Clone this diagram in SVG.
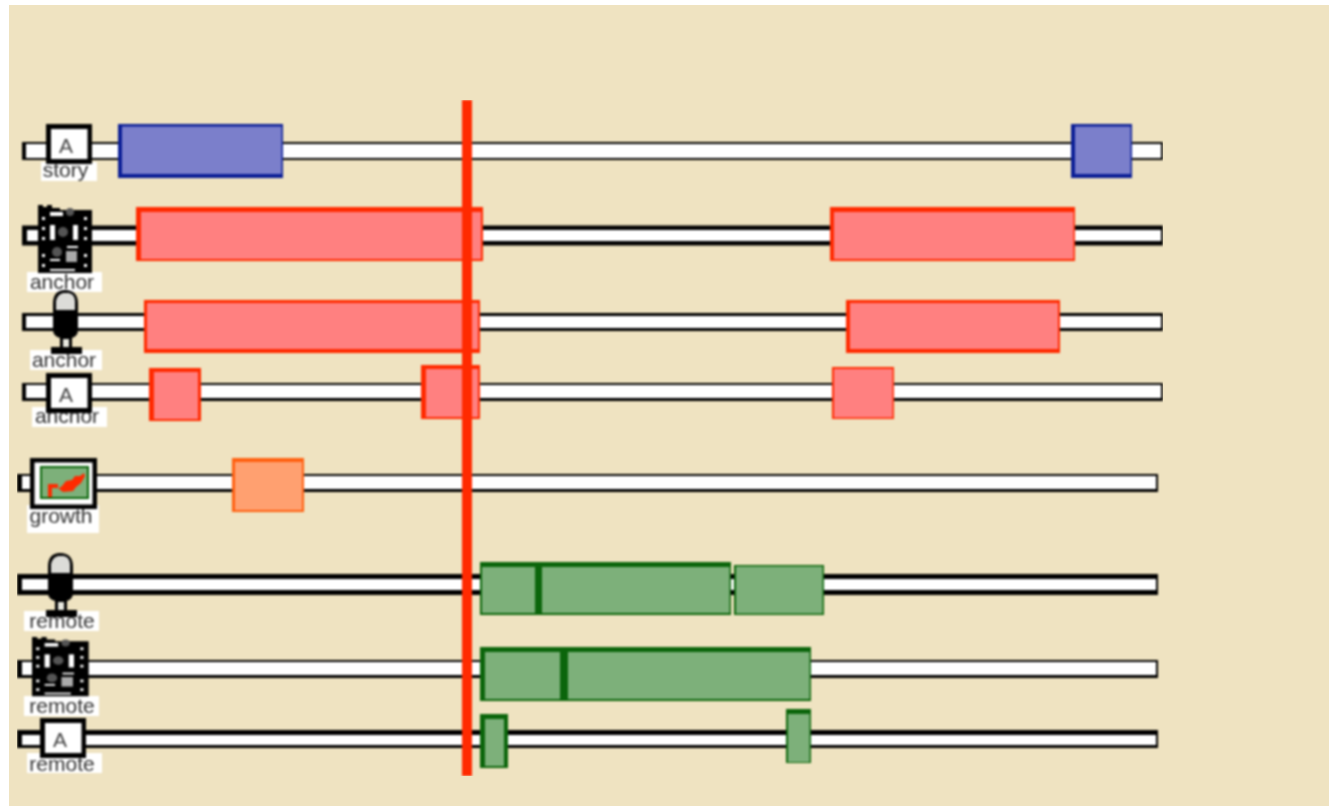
<svg xmlns="http://www.w3.org/2000/svg" width="1329" height="806" viewBox="0 0 1329 806">
<style>
.k{fill:#000}.w{fill:#fff}
.rb{fill:#ff2a00}.rf{fill:#ff8080}
.bb{fill:#0a1e96}.bf{fill:#7b7fcb}
.ob{fill:#ff6010}.of{fill:#ffa070}
.gb{fill:#0b650b}.gf{fill:#7db07a}
text{font-family:"Liberation Sans",Arial,sans-serif;fill:#333}
.l{font-size:21px;text-anchor:middle}
.a{font-size:21px;text-anchor:middle;fill:#444}
</style>
<defs>
<filter id="soft" x="0" y="0" width="1" height="1" color-interpolation-filters="sRGB"><feGaussianBlur stdDeviation="0.8"/></filter>
<g id="abox"><rect class="k" width="46" height="40"/><rect class="w" x="5" y="5" width="36.500" height="30"/><text class="a" x="20" y="29">A</text></g>
<g id="mic">
<path class="k" d="M53 304Q53 290 65 290Q78 290 78 304V330Q78 336 72 338V347H82V354H51V347H60V338Q53 336 53 330Z"/>
<path fill="#dcdcd8" d="M56 310V301Q57 295 63 293H69Q75 295 75 301V310Z"/>
<rect fill="#e8e8e0" x="63" y="339" width="6" height="8"/>
</g>
<g id="board">
<path class="k" d="M0 0H5V2H9V0H14V3H22V5H54V68H0Z"/>
<g class="w">
<rect x="12" y="7" width="13" height="4"/><rect x="12" y="20" width="5" height="15"/><rect x="35" y="20" width="5" height="15"/>
<rect x="12" y="54" width="10" height="2"/><rect x="29" y="41" width="11" height="2"/><rect x="12" y="64" width="25" height="2"/>
<rect x="46" y="12" width="3" height="3"/><rect x="46" y="22" width="3" height="3"/><rect x="46" y="32" width="3" height="3"/><rect x="46" y="49" width="3" height="3"/><rect x="46" y="59" width="3" height="3"/>
<rect x="4" y="12" width="3" height="3"/><rect x="4" y="22" width="3" height="3"/><rect x="4" y="32" width="3" height="3"/><rect x="4" y="49" width="3" height="3"/><rect x="4" y="59" width="3" height="3"/>
</g>
<rect fill="#aaa" x="28" y="46" width="11" height="11"/>
<circle fill="#555" cx="25" cy="27" r="5"/><circle fill="#555" cx="19" cy="47" r="5"/><circle fill="#555" cx="32" cy="7" r="4"/>
</g>
</defs>
<rect class="w" width="1329" height="806"/>
<rect fill="#efe3c1" x="9" y="5" width="1320" height="801"/>
<g filter="url(#soft)">

<g id="row-story">
<rect class="k" x="22" y="142" width="1141" height="18"/><rect class="w" x="26" y="144" width="1135" height="14"/>
<rect class="bb" x="118" y="124" width="165" height="54"/><rect class="bf" x="122" y="126.500" width="159.500" height="47.500"/>
<rect class="bb" x="1071" y="124" width="61" height="54"/><rect class="bf" x="1075" y="126.500" width="55.500" height="47.500"/>
<rect class="w" x="41" y="162" width="56" height="19"/><text class="l" x="65.500" y="177">story</text>
<use href="#abox" x="46" y="124"/>
</g>

<g id="row-anchor-board">
<rect class="k" x="22" y="225.500" width="1141" height="20"/><rect class="w" x="27" y="230" width="1134" height="11"/>
<rect class="rb" x="136" y="207" width="347" height="54"/><rect class="rf" x="141" y="212" width="340" height="47"/>
<rect class="rb" x="830" y="207" width="245" height="54"/><rect class="rf" x="834" y="212" width="239.500" height="47"/>
<rect class="w" x="27" y="272" width="75" height="20"/><text class="l" x="62" y="289">anchor</text>
<use href="#board" x="38" y="205"/>
</g>

<g id="row-anchor-mic">
<rect class="k" x="22" y="313" width="1141" height="18"/><rect class="w" x="26" y="316" width="1135" height="12"/>
<rect class="rb" x="144" y="300" width="336" height="53"/><rect class="rf" x="147" y="303" width="331" height="46"/>
<rect class="rb" x="846" y="300" width="214" height="53"/><rect class="rf" x="850" y="303" width="208" height="46"/>
<rect class="w" x="30" y="350" width="72" height="20"/><text class="l" x="64" y="367">anchor</text>
<use href="#mic"/>
</g>

<g id="row-anchor-text">
<rect class="k" x="22" y="383" width="1141" height="18"/><rect class="w" x="26" y="385" width="1135" height="13"/>
<rect class="rb" x="149" y="368" width="52" height="53"/><rect class="rf" x="154" y="372" width="44" height="47"/>
<rect class="rb" x="421" y="365" width="59" height="54"/><rect class="rf" x="426" y="369" width="52" height="48"/>
<rect class="rb" x="832" y="367" width="62" height="52"/><rect class="rf" x="834" y="369" width="58.500" height="48.500"/>
<rect class="w" x="32" y="407" width="75" height="20"/><text class="l" x="67" y="423">anchor</text>
<use href="#abox" x="46" y="373"/>
</g>

<g id="row-growth">
<rect class="k" x="17" y="474" width="1141" height="18"/><rect class="w" x="22" y="476" width="1134" height="13"/>
<rect class="ob" x="232" y="458" width="72" height="54"/><rect class="of" x="235" y="462" width="67" height="48"/>
<rect class="w" x="27" y="505" width="72" height="28"/><text class="l" x="61" y="523">growth</text>
<rect class="k" x="30" y="458" width="67" height="51"/><rect class="w" x="34.500" y="462.500" width="58" height="42"/>
<rect class="gb" x="40" y="466" width="49" height="33"/><rect class="gf" x="42" y="468" width="45" height="29"/>
<path class="rb" d="M48 497V484H58V489L62 486 66 481 72 480 75 476 80 476 84 473 85 476 81 483 76 487 73 491 63 492 58 488H52V497Z"/>
</g>

<g id="row-remote-mic">
<rect class="k" x="17" y="574" width="1141" height="21"/><rect class="w" x="22" y="579" width="1134" height="11"/>
<rect class="gb" x="480" y="562" width="251" height="53"/><rect class="gf" x="482" y="567" width="247.500" height="46"/><rect class="gb" x="535" y="562" width="7" height="53"/>
<rect class="gb" x="734" y="565" width="90" height="50"/><rect class="gf" x="736" y="566.500" width="86.500" height="47"/>
<rect class="w" x="24" y="611" width="75" height="20"/><text class="l" x="62" y="628">remote</text>
<use href="#mic" x="-5" y="263"/>
</g>

<g id="row-remote-board">
<rect class="k" x="17" y="660" width="1141" height="18"/><rect class="w" x="22" y="662" width="1134" height="13"/>
<rect class="gb" x="480" y="647" width="331" height="54"/><rect class="gf" x="485" y="652" width="324.500" height="47"/><rect class="gb" x="560" y="647" width="8" height="54"/>
<rect class="w" x="24" y="696" width="75" height="20"/><text class="l" x="62" y="713">remote</text>
<use href="#board" transform="translate(32 637) scale(1.05 .87)"/>
</g>

<g id="row-remote-text">
<rect class="k" x="17" y="730" width="1141" height="18"/><rect class="w" x="22" y="735" width="1134" height="10"/>
<rect class="gb" x="480" y="714" width="28" height="54"/><rect class="gf" x="485" y="719" width="19" height="47"/>
<rect class="gb" x="786" y="709" width="25" height="54"/><rect class="gf" x="788" y="714" width="21.500" height="48"/>
<rect class="w" x="27" y="753" width="75" height="20"/><text class="l" x="62" y="771">remote</text>
<use href="#abox" x="40" y="718"/>
</g>

<g id="connectors">
<rect class="rb" x="462" y="100" width="10" height="676"/>
</g>
</g>
</svg>
